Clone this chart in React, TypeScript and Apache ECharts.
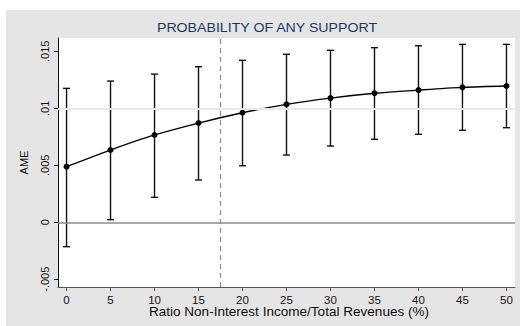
import React, { useEffect, useRef } from "react";
import * as echarts from "echarts";

// Non-interest income share (%) at which the marginal effect is evaluated
const ratioLevels = [0, 5, 10, 15, 20, 25, 30, 35, 40, 45, 50];
// Average marginal effect and its confidence bounds
const ameValues = [0.00488, 0.00634, 0.00766, 0.00871, 0.00961, 0.01035, 0.0109, 0.01132, 0.0116, 0.01184, 0.01196];
const ciUpper = [0.01175, 0.01239, 0.013, 0.01365, 0.01421, 0.01474, 0.01509, 0.01532, 0.01549, 0.01561, 0.01561];
const ciLower = [-0.00214, 0.00023, 0.00219, 0.00371, 0.00496, 0.0059, 0.00669, 0.00728, 0.00772, 0.00807, 0.0083];

const yTickValues = [-0.005, 0, 0.005, 0.01, 0.015];
const yTickLabels = ["-.005", "0", ".005", ".01", ".015"];
const xTickValues = [0, 5, 10, 15, 20, 25, 30, 35, 40, 45, 50];
const gridLineValues = [-0.005, 0.005, 0.01, 0.015];
const zeroLineValue = 0;
const thresholdRatio = 17.5;

const titleText = "PROBABILITY OF ANY SUPPORT";
const xAxisTitle = "Ratio Non-Interest Income/Total Revenues (%)";
const yAxisTitle = "AME";

const FONT = "'Liberation Sans', Arial, sans-serif";

export default function App() {
  const ref = useRef<HTMLDivElement>(null);

  useEffect(() => {
    if (!ref.current) return;
    const chart = echarts.init(ref.current, undefined, { renderer: "svg" });

    const pointData = ratioLevels.map((x, i) => [x, ameValues[i]]);
    const barData = ratioLevels.map((x, i) => [x, ciLower[i], ciUpper[i]]);

    chart.setOption({
      animation: false,
      backgroundColor: "#ffffff",
      textStyle: { fontFamily: FONT },
      graphic: [
        {
          type: "rect",
          z: -10,
          silent: true,
          shape: { x: 6, y: 10, width: 520, height: 330 },
          style: { fill: "#e5e5e5" },
        },
        {
          type: "text",
          x: 267,
          y: 28,
          scaleX: 1.18,
          style: {
            text: titleText,
            fill: "#1f3564",
            font: `12px ${FONT}`,
            align: "center",
            verticalAlign: "middle",
          },
        },
        {
          type: "text",
          x: 289,
          y: 311.5,
          scaleX: 1.13,
          style: {
            text: xAxisTitle,
            fill: "#111",
            font: `12px ${FONT}`,
            align: "center",
            verticalAlign: "middle",
          },
        },
      ],
      grid: {
        left: 58,
        right: 5,
        top: 38,
        bottom: 39,
        show: true,
        backgroundColor: "#ffffff",
        borderWidth: 0,
      },
      xAxis: {
        type: "value",
        min: -0.97,
        max: 50.97,
        axisLine: { show: true, onZero: false, lineStyle: { color: "#555", width: 1 } },
        axisTick: { show: true, length: 4, customValues: xTickValues, lineStyle: { color: "#555" } },
        axisLabel: {
          customValues: xTickValues,
          fontSize: 11.5,
          color: "#111",
          margin: 7,
          fontFamily: FONT,
        },
        splitLine: { show: false },
      },
      yAxis: {
        type: "value",
        min: -0.00568,
        max: 0.01617,
        name: yAxisTitle,
        nameLocation: "middle",
        nameGap: 29,
        nameTextStyle: { fontSize: 11, color: "#111", fontFamily: FONT },
        axisLine: { show: true, onZero: false, lineStyle: { color: "#111", width: 1 } },
        axisTick: { show: true, length: 4, customValues: yTickValues, lineStyle: { color: "#111" } },
        axisLabel: {
          customValues: yTickValues,
          rotate: 90,
          fontSize: 11,
          color: "#111",
          margin: 8,
          fontFamily: FONT,
          formatter: (v: number) => {
            const i = yTickValues.findIndex((t) => Math.abs(t - v) < 1e-9);
            return i >= 0 ? yTickLabels[i] : "";
          },
        },
        splitLine: { show: false },
      },
      series: [
        {
          // reference lines: horizontal grid, zero line, threshold
          type: "line",
          data: [],
          silent: true,
          markLine: {
            symbol: "none",
            silent: true,
            label: { show: false },
            data: [
              ...gridLineValues.map((v) => ({
                yAxis: v,
                lineStyle: { color: "#e8e8e8", width: 1.5, type: "solid" },
              })),
              { yAxis: zeroLineValue, lineStyle: { color: "#8c8c8c", width: 1.5, type: "solid" } },
              { xAxis: thresholdRatio, lineStyle: { color: "#8c8c8c", width: 1.2, type: [5, 4] } },
            ],
          },
          z: 1,
        },
        {
          type: "custom",
          z: 3,
          data: barData,
          renderItem: (_params: any, api: any) => {
            const x = api.value(0);
            const lo = api.coord([x, api.value(1)]);
            const hi = api.coord([x, api.value(2)]);
            const hw = 3.5;
            const style = { stroke: "#111", lineWidth: 1.4 };
            return {
              type: "group",
              children: [
                { type: "line", shape: { x1: lo[0], y1: lo[1], x2: hi[0], y2: hi[1] }, style },
                { type: "line", shape: { x1: hi[0] - hw, y1: hi[1], x2: hi[0] + hw, y2: hi[1] }, style },
                { type: "line", shape: { x1: lo[0] - hw, y1: lo[1], x2: lo[0] + hw, y2: lo[1] }, style },
              ],
            };
          },
        },
        {
          type: "line",
          z: 4,
          data: pointData,
          smooth: 0.3,
          symbol: "circle",
          symbolSize: 6,
          itemStyle: { color: "#000" },
          lineStyle: { color: "#000", width: 1.3 },
        },
      ],
    });

    return () => chart.dispose();
  }, []);

  return (
    <div
      ref={ref}
      style={{ position: "fixed", left: 0, top: 0, width: 520, height: 326 }}
    />
  );
}
